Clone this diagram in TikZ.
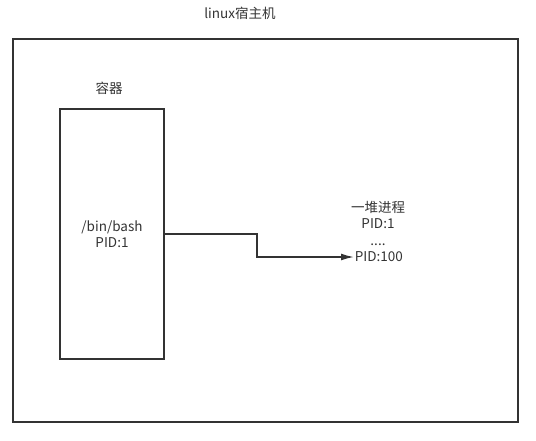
\documentclass[tikz,border=0pt]{standalone}
\usepackage{fontspec}
\setmainfont{Noto Sans CJK SC}
\usetikzlibrary{positioning, arrows.meta}
\definecolor{ink}{HTML}{333333}

\begin{document}
\begin{tikzpicture}[x=1pt, y=-1pt, line width=1.6pt, draw=ink, text=ink,
	every node/.style={font=\fontsize{13.5}{16.5}\selectfont, align=center}]
	\useasboundingbox (0,0) rectangle (536,440);
	\node (host) [draw=ink, minimum width=505pt, minimum height=383pt] at (265.5,230.5) {};
	\node (hostname) at (240,13) {linux宿主机};
	\node (box) [draw=ink, minimum width=104pt, minimum height=250pt] at (112,234) {/bin/bash\\PID:1};
	\node (boxname) at (109,88) {容器};
	\node (last) [inner sep=0pt, anchor=west] at (354,257) {PID:100};
	\node (procs) [inner sep=0pt] at (378,223) {一堆进程\\PID:1\\....};
	\coordinate (bend) at (257,245);
	\draw [-{Latex[length=13pt, width=7pt]}, draw=ink] (box.east) -| (bend) |- (last.west);
\end{tikzpicture}
\end{document}
